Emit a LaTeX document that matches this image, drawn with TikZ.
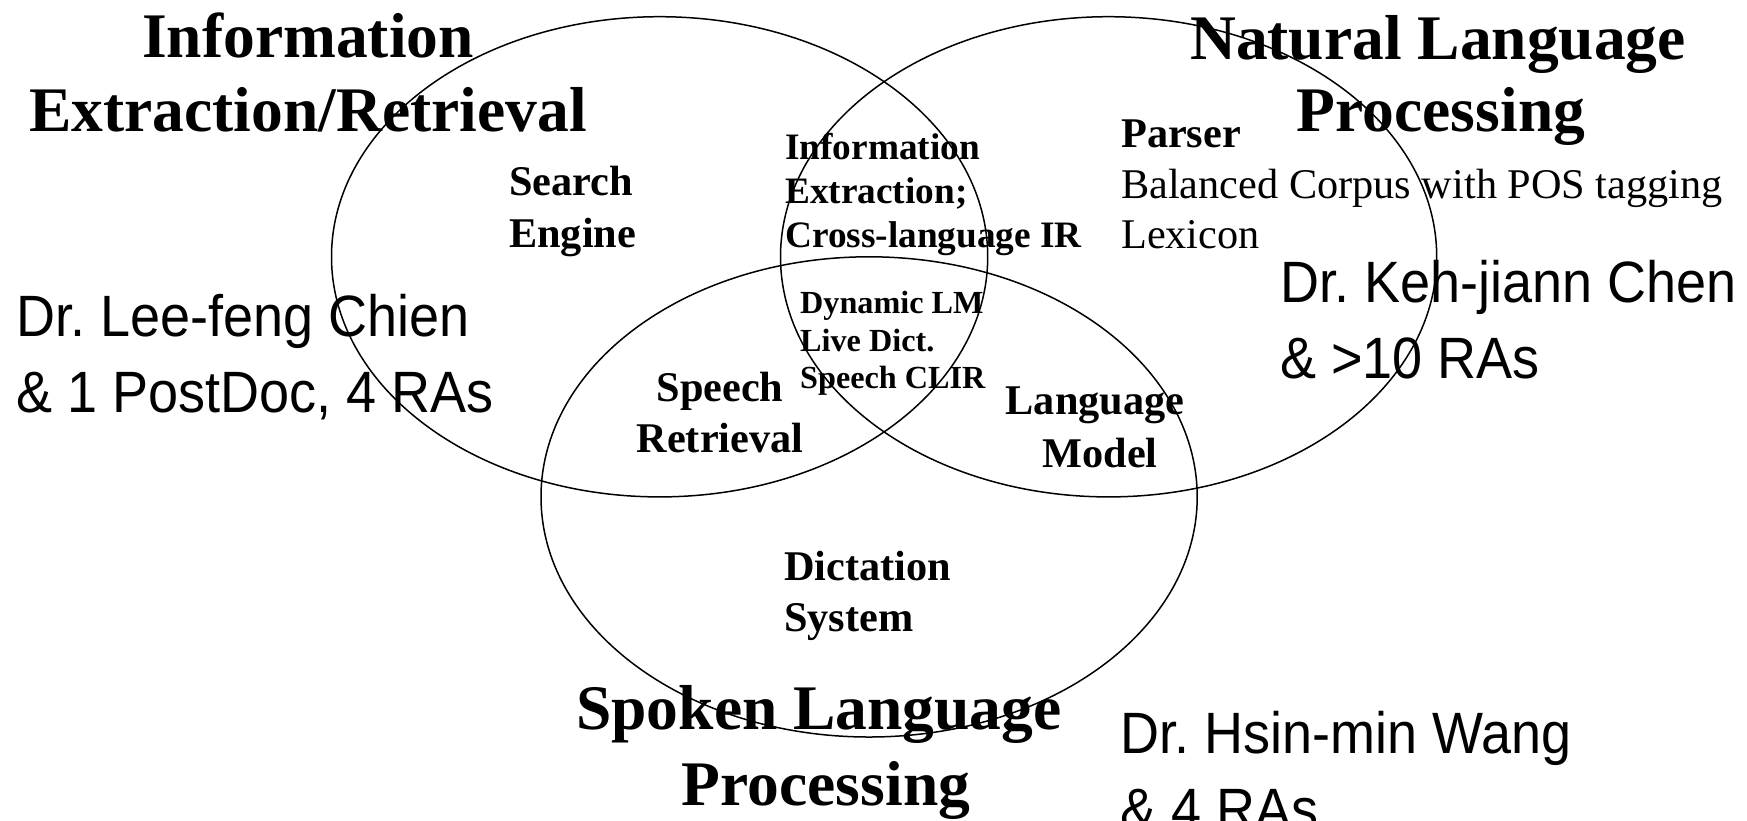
\documentclass[tikz,border=0pt]{standalone}
\usepackage{fontspec}
\usepackage{graphicx}
\setmainfont{Liberation Serif}
\setsansfont{Liberation Sans}
\frenchspacing
\newcommand{\tallsans}[1]{\scalebox{1}[1.08]{#1}}
\begin{document}
\begin{tikzpicture}[x=1pt,y=-1pt,
  venn/.style={draw=black, line width=1.5pt},
  title/.style={font=\bfseries\fontsize{63.5}{70}\selectfont, inner sep=0pt, anchor=base},
  lbl/.style={font=\bfseries\fontsize{42.3}{50}\selectfont, inner sep=0pt},
  lblr/.style={font=\fontsize{42.3}{50}\selectfont, inner sep=0pt},
  lblm/.style={font=\bfseries\fontsize{37.3}{44}\selectfont, inner sep=0pt, anchor=base west},
  lbls/.style={font=\bfseries\fontsize{32.2}{38}\selectfont, inner sep=0pt, anchor=base west},
  who/.style={font=\sffamily\fontsize{54}{62}\selectfont\frenchspacing, inner sep=0pt, anchor=base west}]
\useasboundingbox (0,0) rectangle (1747,820);
% circles
\draw[venn] (659.6,256.8) ellipse [x radius=328.1, y radius=240.1];
\draw[venn] (1108.6,256.8) ellipse [x radius=328.1, y radius=240.1];
\draw[venn] (869.1,496.9) ellipse [x radius=328.1, y radius=240.1];
% titles
\node[title] (t1a) at (308,57) {Information};
\node[title] (t1b) at (308,131) {Extraction/Retrieval};
\node[title] (t2a) at (1438,59) {Natural Language};
\node[title] (t2b) at (1441,131) {Processing};
\node[title] (t3a) at (819,729) {Spoken Language};
\node[title] (t3b) at (826,805) {Processing};
% region labels
\node[lbl, anchor=base west] (se1) at (509,195) {Search};
\node[lbl, anchor=base west] (se2) at (509,247) {Engine};
\node[lbl, anchor=base] (sr1) at (720,401) {Speech};
\node[lbl, anchor=base] (sr2) at (720,452) {Retrieval};
\node[lbl, anchor=base] (lm1) at (1095,414) {Language};
\node[lbl, anchor=base] (lm2) at (1100,467) {Model};
\node[lbl, anchor=base west] (ds1) at (784,580) {Dictation};
\node[lbl, anchor=base west] (ds2) at (784,631) {System};
\node[lbl, anchor=base west] (pa) at (1121,147) {Parser};
\node[lblr, anchor=base west] (bc) at (1121,198) {Balanced Corpus with POS tagging};
\node[lblr, anchor=base west] (lx) at (1121,248) {Lexicon};
\node[lblm] (ie1) at (785,159) {Information};
\node[lblm] (ie2) at (785,203.5) {Extraction;};
\node[lblm] (ie3) at (785,247.7) {Cross-language IR};
\node[lbls] (dy1) at (800,313) {Dynamic LM};
\node[lbls] (dy2) at (800,351.5) {Live Dict.};
\node[lbls] (dy3) at (800,388.5) {Speech CLIR};
% people
\node[who] (p1a) at (16,336) {\tallsans{Dr. Lee-feng Chien}};
\node[who] (p1b) at (16,412) {\tallsans{\& 1 PostDoc, 4 RAs}};
\node[who] (p2a) at (1280,302) {\tallsans{Dr. Keh-jiann Chen}};
\node[who] (p2b) at (1280,378) {\tallsans{\& >10 RAs}};
\node[who] (p3a) at (1120,753) {\tallsans{Dr. Hsin-min Wang}};
\node[who] (p3b) at (1120,829) {\tallsans{\& 4 RAs}};
\end{tikzpicture}
\end{document}
